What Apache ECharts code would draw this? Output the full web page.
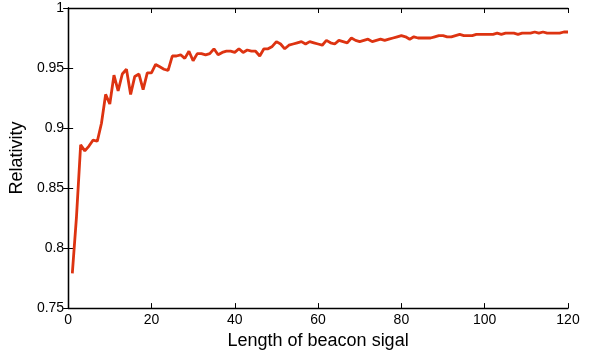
<!DOCTYPE html>
<html>
<head>
<meta charset="utf-8">
<script src="https://cdn.jsdelivr.net/npm/echarts@6/dist/echarts.min.js"></script>
<style>
  html, body { margin: 0; padding: 0; background: #fff; }
  #chart { width: 601px; height: 355px; }
</style>
</head>
<body>
<div id="chart"></div>
<script>
// beacon signal length 1..120
var lengths = [];
for (var i = 1; i <= 120; i++) lengths.push(i);

var relativity = [
  0.779, 0.826, 0.886, 0.881, 0.885, 0.890, 0.889, 0.904, 0.928, 0.920,
  0.944, 0.931, 0.945, 0.949, 0.928, 0.943, 0.945, 0.932, 0.946, 0.946,
  0.953, 0.951, 0.949, 0.948, 0.960, 0.960, 0.961, 0.958, 0.964, 0.956,
  0.962, 0.962, 0.961, 0.962, 0.966, 0.961, 0.963, 0.964, 0.964, 0.963,
  0.966, 0.963, 0.965, 0.964, 0.964, 0.960, 0.966, 0.966, 0.968, 0.972,
  0.970, 0.966, 0.969, 0.970, 0.971, 0.972, 0.970, 0.972, 0.971, 0.970,
  0.969, 0.973, 0.971, 0.970, 0.973, 0.972, 0.971, 0.975, 0.973, 0.972,
  0.973, 0.974, 0.972, 0.973, 0.974, 0.973, 0.974, 0.975, 0.976, 0.977,
  0.976, 0.974, 0.976, 0.975, 0.975, 0.975, 0.975, 0.976, 0.977, 0.977,
  0.976, 0.976, 0.977, 0.978, 0.977, 0.977, 0.977, 0.978, 0.978, 0.978,
  0.978, 0.978, 0.979, 0.978, 0.979, 0.979, 0.979, 0.978, 0.979, 0.979,
  0.979, 0.980, 0.979, 0.980, 0.979, 0.979, 0.979, 0.979, 0.980, 0.980
];

var xTicks = [0, 20, 40, 60, 80, 100, 120];
var yTicks = [0.75, 0.8, 0.85, 0.9, 0.95, 1];

var pairs = lengths.map(function (x, i) { return [x, relativity[i]]; });

var font = 'Liberation Sans, Arial, sans-serif';
var lineAxis = { lineStyle: { color: '#000', width: 1.3 } };

var myChart = echarts.init(document.getElementById('chart'));
var option = {
  animation: false,
  grid: { left: 68, right: 33, top: 8, bottom: 43, containLabel: false },
  xAxis: [
    {
      type: 'value',
      min: xTicks[0], max: xTicks[xTicks.length - 1], interval: 20,
      name: 'Length of beacon sigal',
      nameLocation: 'middle', nameGap: 15,
      nameTextStyle: { fontFamily: font, fontSize: 18, color: '#000' },
      axisLine: lineAxis,
      axisTick: { inside: true, length: 5, lineStyle: { color: '#000' } },
      axisLabel: { fontFamily: font, fontSize: 14, color: '#000', margin: 5 },
      splitLine: { show: false }
    },
    {
      type: 'value', position: 'top',
      min: xTicks[0], max: xTicks[xTicks.length - 1], interval: 20,
      axisLine: lineAxis,
      axisTick: { inside: true, length: 5, lineStyle: { color: '#000' } },
      axisLabel: { show: false },
      splitLine: { show: false }
    }
  ],
  yAxis: [
    {
      type: 'value',
      min: yTicks[0], max: yTicks[yTicks.length - 1], interval: 0.05,
      name: 'Relativity',
      nameLocation: 'middle', nameGap: 39, nameRotate: 90,
      nameTextStyle: { fontFamily: font, fontSize: 18, color: '#000' },
      axisLine: lineAxis,
      axisTick: { inside: true, length: 5, lineStyle: { color: '#000' } },
      axisLabel: { fontFamily: font, fontSize: 14, color: '#000', margin: 4 },
      splitLine: { show: false }
    },
    {
      type: 'value', position: 'right',
      min: yTicks[0], max: yTicks[yTicks.length - 1], interval: 0.05,
      axisLine: lineAxis,
      axisTick: { inside: true, length: 5, lineStyle: { color: '#000' } },
      axisLabel: { show: false },
      splitLine: { show: false }
    }
  ],
  series: [
    {
      type: 'line',
      data: pairs,
      showSymbol: false,
      lineStyle: { color: '#dd3311', width: 2.8 }
    }
  ]
};
myChart.setOption(option);
</script>
</body>
</html>
